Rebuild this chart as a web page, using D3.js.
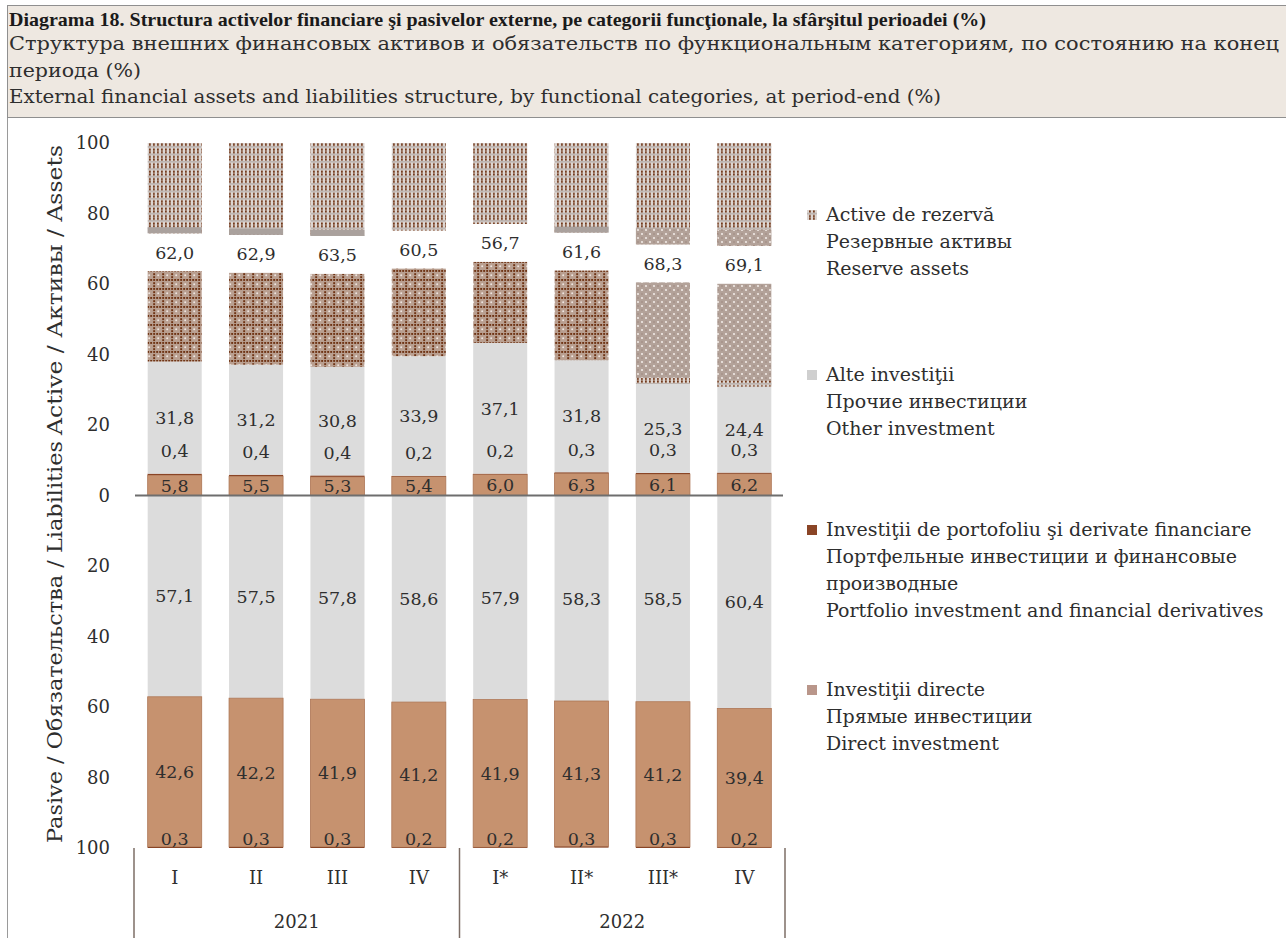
<!DOCTYPE html>
<html><head><meta charset="utf-8">
<script src="https://cdn.jsdelivr.net/npm/d3@7"></script>
<style>
html,body{margin:0;padding:0;background:#fff;}
svg{display:block;}
text{font-family:"DejaVu Serif",serif;fill:#2e2e2e;}
</style></head><body>
<svg id="chart" width="1286" height="938"></svg>
<script>
// ---------------- DATA ----------------
const quarters = ["I","II","III","IV","I*","II*","III*","IV"];
const years = ["2021","2022"];
const yearOfBar = [0,0,0,0,1,1,1,1];
// Assets (upwards)
const assetDirect    = [5.8,5.5,5.3,5.4,6.0,6.3,6.1,6.2];
const assetPortfolio = [0.4,0.4,0.4,0.2,0.2,0.3,0.3,0.3];
const assetOther     = [31.8,31.2,30.8,33.9,37.1,31.8,25.3,24.4];
const assetReserve   = [62.0,62.9,63.5,60.5,56.7,61.6,68.3,69.1];
// Liabilities (downwards)
const liabOther      = [57.1,57.5,57.8,58.6,57.9,58.3,58.5,60.4];
const liabDirect     = [42.6,42.2,41.9,41.2,41.9,41.3,41.2,39.4];
const liabPortfolio  = [0.3,0.3,0.3,0.2,0.2,0.3,0.3,0.2];
const yTicks = [100,80,60,40,20,0,-20,-40,-60,-80,-100];
const titleLines = [
  "Diagrama 18. Structura activelor financiare şi pasivelor externe, pe categorii funcţionale, la sfârşitul perioadei (%)",
  "Структура внешних финансовых активов и обязательств по функциональным категориям, по состоянию на конец",
  "периода (%)",
  "External financial assets and liabilities structure, by functional categories, at period-end (%)"
];
const axisTitleAssets = "Active / Активы / Assets";
const axisTitleLiab = "Pasive / Обязательства / Liabilities";
const legendItems = [
  {key:"reserve",   lines:["Active de rezervă","Резервные активы","Reserve assets"]},
  {key:"other",     lines:["Alte investiţii","Прочие инвестиции","Other investment"]},
  {key:"portfolio", lines:["Investiţii de portofoliu şi derivate financiare","Портфельные инвестиции и финансовые","производные","Portfolio investment and financial derivatives"]},
  {key:"direct",    lines:["Investiţii directe","Прямые инвестиции","Direct investment"]}
];
// look of the reserve block per bar (raster texture variants)
const reserveLook = ["a","a","a","n","n","a","b","b"];

// ---------------- STYLE ----------------
const colors = {other:"#dcdcdc", direct:"#c6926f", portfolio:"#8a4526"};
const fmt = v => d3.format(".1f")(v).replace(".", ",");

const svg = d3.select("#chart");
const defs = svg.append("defs");

function pattern(id,w,h,bg){
  const p = defs.append("pattern").attr("id",id).attr("patternUnits","userSpaceOnUse").attr("width",w).attr("height",h);
  p.append("rect").attr("width",w).attr("height",h).attr("fill",bg);
  return p;
}
const dotC = "#6f3415";
const pU = pattern("resU",4,7.4,"#ddd6d2");
pU.append("rect").attr("x",1).attr("y",0.5).attr("width",1.8).attr("height",2).attr("fill",dotC);
pU.append("rect").attr("x",1).attr("y",3.2).attr("width",1.8).attr("height",2).attr("fill",dotC);
pU.append("rect").attr("x",0).attr("y",5.7).attr("width",4).attr("height",1.3).attr("fill","#b5aca8");
const pA = pattern("resA",9,9,"#b99f90");
[0.2,3.2,6.2].forEach(x=>pA.append("rect").attr("x",x).attr("y",0).attr("width",1.9).attr("height",1.9).attr("fill",dotC));
[3.2,6.2].forEach(yv=>pA.append("rect").attr("x",0.2).attr("y",yv).attr("width",1.9).attr("height",1.9).attr("fill",dotC));
pA.append("circle").attr("cx",5.2).attr("cy",5.2).attr("r",1).attr("fill","#eee5e0");
const pB = pattern("resB",8,8,"#b3a299");
pB.append("circle").attr("cx",2).attr("cy",2).attr("r",1.1).attr("fill","#f0e9e5");
pB.append("circle").attr("cx",6).attr("cy",6).attr("r",1.1).attr("fill","#f0e9e5");
pB.append("circle").attr("cx",6).attr("cy",2).attr("r",0.8).attr("fill","#9c887e");
pB.append("circle").attr("cx",2).attr("cy",6).attr("r",0.8).attr("fill","#9c887e");

function fitText(sel, w){
  sel.attr("textLength", w).attr("lengthAdjust","spacingAndGlyphs");
}

// ---------------- HEADER ----------------
svg.append("rect").attr("x",7.5).attr("y",5.5).attr("width",1290).attr("height",112)
  .attr("fill","#eee8e1").attr("stroke","#8f8f8f").attr("stroke-width",1);
svg.append("line").attr("x1",7.5).attr("x2",7.5).attr("y1",118).attr("y2",938).attr("stroke","#9a9a9a");
const headerY = [26, 50, 77, 103];
const headerW = [977, 1270, 132, 932];
titleLines.forEach((t,k)=>{
  const tx = svg.append("text").attr("x",9).attr("y",headerY[k]).text(t)
    .style("font-size", k===0 ? "19.5px" : "18px");
  if(k===0) tx.style("font-family","'Liberation Serif',serif").style("font-weight","bold").style("fill","#1a1a1a");
  fitText(tx, headerW[k]);
});

// ---------------- SCALES ----------------
const idx = d3.range(quarters.length);
const x = d3.scaleBand().domain(idx).range([134,785]).paddingInner(0.336).paddingOuter(0.168);
const y = d3.scaleLinear().domain([-100,100]).range([848,143]);
const bw = x.bandwidth();

// ---------------- SEGMENTS ----------------
const segs = [];
idx.forEach(i=>{
  let a = 0;
  segs.push({i, k:"direct", v0:a, v1:a+assetDirect[i]}); a += assetDirect[i];
  segs.push({i, k:"portfolio", v0:a, v1:a+assetPortfolio[i]}); a += assetPortfolio[i];
  segs.push({i, k:"other", v0:a, v1:a+assetOther[i]});
  let l = 0;
  segs.push({i, k:"other", v0:-l, v1:-(l+liabOther[i])}); l += liabOther[i];
  segs.push({i, k:"direct", v0:-l, v1:-(l+liabDirect[i])}); l += liabDirect[i];
  segs.push({i, k:"portfolio", v0:-l, v1:-(l+liabPortfolio[i])});
});
const gBars = svg.append("g");
gBars.selectAll("rect.seg").data(segs).join("rect").attr("class","seg")
  .attr("x", d=>x(d.i)).attr("width", bw)
  .attr("y", d=>y(Math.max(d.v0,d.v1)))
  .attr("height", d=>Math.abs(y(d.v0)-y(d.v1)))
  .attr("fill", d=>colors[d.k])
  .attr("stroke", d=>d.k==="direct" ? "#ad7655" : "none")
  .attr("stroke-width", 0.8);

// reserve assets with label gap
const gRes = svg.append("g");
idx.forEach(i=>{
  const v0 = 100 - assetReserve[i];
  const yl = y((v0+100)/2);
  const top = y(100), boxTop = yl-19, boxBot = yl+19, bot = y(v0);
  const look = reserveLook[i];
  gRes.append("rect").attr("x",x(i)).attr("width",bw).attr("y",top).attr("height",boxTop-top).attr("fill","url(#resU)");
  gRes.append("rect").attr("x",x(i)).attr("width",bw).attr("y",boxBot).attr("height",bot-boxBot)
    .attr("fill", look==="b" ? "url(#resB)" : "url(#resA)");
  if(look==="a"){
    gRes.append("rect").attr("x",x(i)).attr("width",bw).attr("y",boxTop-6).attr("height",6).attr("fill","#aaa19d");
  } else if(look==="b"){
    gRes.append("rect").attr("x",x(i)).attr("width",bw).attr("y",boxTop-16).attr("height",16).attr("fill","url(#resB)");
    gRes.append("rect").attr("x",x(i)).attr("width",bw).attr("y",bot-6).attr("height",6).attr("fill","url(#resU)");
  }
  gRes.append("text").attr("x",x(i)+bw/2).attr("y",yl).attr("dy","0.36em").attr("text-anchor","middle")
    .style("font-size","17.5px").text(fmt(assetReserve[i]));
});

// zero line
svg.append("line").attr("x1",135).attr("x2",783).attr("y1",y(0)).attr("y2",y(0))
  .attr("stroke","#6e6e6e").attr("stroke-width",2);

// ---------------- VALUE LABELS ----------------
const labels = [];
idx.forEach(i=>{
  const d = assetDirect[i], p = assetPortfolio[i], o = assetOther[i];
  labels.push({i, v:d, py:y(d/2)});
  labels.push({i, v:p, py:y(d)-24});
  labels.push({i, v:o, py:y(d+p+o/2)});
  const lo = liabOther[i], ld = liabDirect[i], lp = liabPortfolio[i];
  labels.push({i, v:lo, py:y(-lo/2)});
  labels.push({i, v:ld, py:y(-(lo+ld/2))});
  labels.push({i, v:lp, py:y(-100)-9});
});
svg.append("g").selectAll("text").data(labels).join("text")
  .attr("x", d=>x(d.i)+bw/2).attr("y", d=>d.py).attr("dy","0.36em")
  .attr("text-anchor","middle").style("font-size","17.5px").text(d=>fmt(d.v));

// ---------------- AXES ----------------
const gy = svg.append("g").attr("transform","translate(110,0)")
  .call(d3.axisLeft(y).tickValues(yTicks).tickFormat(d=>Math.abs(d)).tickSize(0).tickPadding(0));
gy.select(".domain").remove();
gy.attr("font-family",null).attr("font-size",null);
gy.selectAll("text").style("font-size","18px").attr("fill","#2e2e2e");

const gx = svg.append("g").attr("transform",`translate(0,${y(-100)})`)
  .call(d3.axisBottom(x).tickFormat(i=>quarters[i]).tickSize(0).tickPadding(23));
gx.select(".domain").remove();
gx.attr("font-family",null).attr("font-size",null);
gx.selectAll("text").style("font-size","18px").attr("fill","#2e2e2e");

// year labels and separators
years.forEach((yr,k)=>{
  const bars = idx.filter(i=>yearOfBar[i]===k);
  const cx = d3.mean(bars, i=>x(i)+bw/2);
  svg.append("text").attr("x",cx).attr("y",928).attr("text-anchor","middle").style("font-size","18px").text(yr);
});
const gap = x.step()*x.paddingInner()/2;
const sepX = [x(0)-gap, x(4)-gap, x(7)+bw+gap];
svg.append("g").selectAll("line").data(sepX).join("line")
  .attr("x1",d=>d).attr("x2",d=>d).attr("y1",y(-100)).attr("y2",938)
  .attr("stroke","#7d6e66").attr("stroke-width",1.5);

// axis titles
const at1 = svg.append("text").attr("transform","translate(62,290) rotate(-90)").attr("text-anchor","middle")
  .style("font-size","20px").text(axisTitleAssets);
fitText(at1, 290);
const at2 = svg.append("text").attr("transform","translate(62,642) rotate(-90)").attr("text-anchor","middle")
  .style("font-size","20px").text(axisTitleLiab);
fitText(at2, 402);

// ---------------- LEGEND ----------------
const legendTop = [221, 381, 536, 696];
const lineH = 27;
const markerFill = {reserve:"url(#resU)", other:"#cfcfcf", portfolio:"#8a4526", direct:"#b9968a"};
legendItems.forEach((it,k)=>{
  const g = svg.append("g");
  g.append("rect").attr("x",807).attr("y",legendTop[k]-11).attr("width",10).attr("height",10)
    .attr("fill", markerFill[it.key]);
  it.lines.forEach((ln,j)=>{
    g.append("text").attr("x",826).attr("y",legendTop[k]+j*lineH).style("font-size","19px").text(ln);
  });
});
</script>
</body></html>
